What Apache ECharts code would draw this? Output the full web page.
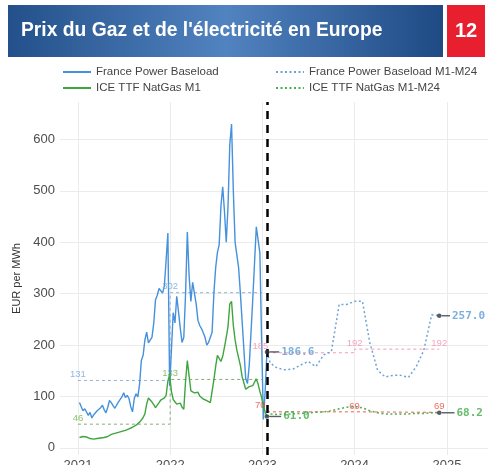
<!DOCTYPE html>
<html>
<head>
<meta charset="utf-8">
<script src="https://cdn.jsdelivr.net/npm/echarts@6/dist/echarts.min.js"></script>
<style>
html,body{margin:0;padding:0;background:#fff;}
#chart{width:488px;height:465px;}
</style>
</head>
<body>
<div id="chart"></div>
<script>
// weekly spot / front month, first week 2021-01-07, last one = cutoff 2023-01-19
var spotStart = '2021-01-07';
var powerSpot = [88,80,72,76,78,63,69,58,64,62,72,74,78,83,74,68,79,92,88,82,
  77,74,89,86,99,107,98,102,96,80,70,96,105,99,124,170,180,210,225,204,
  201,215,242,288,297,310,312,301,315,365,418,120,190,263,243,295,265,233,205,215,
  300,420,335,285,322,325,280,248,238,232,224,215,200,205,208,225,300,350,380,395,
  470,508,460,400,470,590,630,500,400,375,350,300,245,190,135,125,160,225,290,360,
  430,432,380,210,55,110,186.6];
var gasSpot = [20,21,22,23,21,19,18,17,17,18,18,19,19,20,20,21,22,24,26,27,
  28,29,30,31,32,33,34,36,37,38,40,42,44,47,50,54,59,66,85,97,
  95,89,84,78,80,88,93,95,97,102,130,142,110,94,92,85,87,87,79,75,
  130,170,140,111,112,107,105,108,101,98,95,93,92,89,88,110,132,158,180,180,
  168,178,196,215,236,280,285,238,210,190,175,160,138,126,114,112,119,121,121,128,
  134,124,110,98,80,70,61];

// forward curves M1-M24 (first point = last spot at cutoff)
var cutoff = '2023-01-19';
var fwdMonths = [cutoff,'2023-02-01','2023-03-01','2023-04-01','2023-05-01','2023-06-01','2023-07-01',
  '2023-08-01','2023-09-01','2023-10-01','2023-11-01','2023-12-01','2024-01-01','2024-02-01',
  '2024-03-01','2024-04-01','2024-05-01','2024-06-01','2024-07-01','2024-08-01','2024-09-01',
  '2024-10-01','2024-11-01','2024-12-01'];
var powerFwd = [186.6,165,155,152,153,161,168,158,181,187,279,279,285,285,205,151,138,141,141,137,158,190,259,257.0];
var gasFwd = [61.0,66,65,66,66,67,68,69,70,72,76,79,80,78,72,68,66,66,66,66,67,67,68,68.2];

// yearly averages (step lines) and where their labels sit
var histAvgDates = ['2021-01-01','2022-01-01','2022-12-31'];
var powerHistAvg = [131,302,302];
var gasHistAvg = [46,133,133];
var histLabelDates = ['2021-01-01','2022-01-01'];
var fwdAvgDates = [cutoff,'2024-01-01','2024-12-01'];
var powerFwdAvg = [185,192,192];
var gasFwdAvg = [70,69,69];
var fwdLabelDates = ['2022-12-24','2024-01-01','2024-12-01'];

var yearTicks = ['2021-01-01','2022-01-01','2023-01-01','2024-01-01','2025-01-01'];
var yTicks = [0,100,200,300,400,500,600];

function ts(s){ return +new Date(s + 'T00:00:00'); }
function weekly(start, n){
  var d0 = new Date(start + 'T00:00:00'), out = [];
  for (var i = 0; i < n; i++) { var d = new Date(d0); d.setDate(d0.getDate() + 7 * i); out.push(d.getTime()); }
  return out;
}
function zip(xs, ys){ return ys.map(function(v, i){ return [typeof xs[i] === 'string' ? ts(xs[i]) : xs[i], v]; }); }

var spotDates = weekly(spotStart, powerSpot.length);

var blue = '#4591db', green = '#3fa53f';

function avgLine(dates, vals, color){
  return { type: 'line', step: 'end', data: zip(dates, vals), symbol: 'none', silent: true, z: 2,
    lineStyle: { color: color, width: 1, type: [3, 3] } };
}
function avgLabels(dates, vals, color){
  return { type: 'scatter', symbolSize: 0, silent: true, z: 6,
    data: dates.map(function(d, i){ return [ts(d), vals[i]]; }),
    label: { show: true, position: 'top', distance: 1, color: color, fontSize: 9.5,
      formatter: function(p){ return String(p.value[1]); } } };
}
function endLabel(date, val, txt, color, gap){
  return { type: 'scatter', symbol: 'circle', symbolSize: 4.5, silent: true, z: 7,
    itemStyle: { color: '#2b3544' },
    data: [[ts(date), val]],
    label: { show: true, position: 'right', distance: 0,
      formatter: '{l| }{v|' + txt + '}',
      rich: {
        l: { width: gap, height: 1.4, backgroundColor: '#2b3544' },
        v: { color: color, fontFamily: 'DejaVu Sans Mono', fontWeight: 'bold', fontSize: 11, padding: [0, 0, 0, 2] }
      } } };
}

var legendBase = { orient: 'vertical', top: 61, itemWidth: 28, itemHeight: 14, itemGap: 4,
  itemStyle: { opacity: 0 }, textStyle: { fontSize: 11.5, color: '#444' } };

var myChart = echarts.init(document.getElementById('chart'));
var option = {
  animation: false,
  textStyle: { fontFamily: 'Liberation Sans' },
  graphic: [
    { type: 'rect', shape: { x: 8, y: 5, width: 435, height: 52 },
      style: { fill: new echarts.graphic.LinearGradient(0, 0, 1, 0, [
        { offset: 0, color: '#23508a' }, { offset: 0.5, color: '#5183c0' }, { offset: 1, color: '#1f4a84' }]) } },
    { type: 'text', x: 21, y: 31,
      style: { text: "Prix du Gaz et de l'électricité en Europe", fill: '#fff', fontSize: 19.3, fontWeight: 'bold',
        fontFamily: 'Liberation Sans', verticalAlign: 'middle' } },
    { type: 'rect', shape: { x: 447, y: 5, width: 38, height: 52 }, style: { fill: '#e81f2e' } },
    { type: 'text', x: 466, y: 31,
      style: { text: '12', fill: '#fff', fontSize: 20, fontWeight: 'bold', fontFamily: 'Liberation Sans',
        align: 'center', verticalAlign: 'middle' } }
  ],
  legend: [
    Object.assign({ left: 57, data: ['France Power Baseload', 'ICE TTF NatGas M1'] }, legendBase),
    Object.assign({ left: 270, data: ['France Power Baseload M1-M24', 'ICE TTF NatGas M1-M24'] }, legendBase)
  ],
  grid: { left: 60, right: 0, top: 102, bottom: 10, outerBoundsMode: 'none' },
  xAxis: {
    type: 'value', min: ts('2020-10-22'), max: ts('2025-06-12'),
    axisLine: { show: false },
    axisTick: { show: false, customValues: yearTicks.map(ts) },
    axisLabel: { customValues: yearTicks.map(ts), margin: 4, fontSize: 13, color: '#4d4d4d',
      formatter: function(v){ return String(new Date(v).getFullYear()); } },
    splitLine: { show: true, lineStyle: { color: '#ebebeb', width: 1 } }
  },
  yAxis: {
    type: 'value', min: -14, max: 673,
    name: 'EUR per MWh', nameLocation: 'middle', nameGap: 35, nameRotate: 90,
    nameTextStyle: { fontSize: 11, color: '#333' },
    axisLine: { show: false },
    axisTick: { show: false, customValues: yTicks },
    axisLabel: { customValues: yTicks, margin: 5, fontSize: 13, color: '#4d4d4d' },
    splitLine: { show: true, lineStyle: { color: '#ebebeb', width: 1 } }
  },
  series: [
    avgLine(histAvgDates, powerHistAvg, '#93b5d8'),
    avgLine(histAvgDates, gasHistAvg, '#8aa97c'),
    avgLine(fwdAvgDates, powerFwdAvg, '#f49ab8'),
    avgLine(fwdAvgDates, gasFwdAvg, '#ef5b4f'),
    { name: 'France Power Baseload', type: 'line', data: zip(spotDates, powerSpot), symbol: 'none', z: 4,
      lineStyle: { color: blue, width: 1.4 }, itemStyle: { color: blue } },
    { name: 'ICE TTF NatGas M1', type: 'line', data: zip(spotDates, gasSpot), symbol: 'none', z: 4,
      lineStyle: { color: green, width: 1.4 }, itemStyle: { color: green } },
    { name: 'France Power Baseload M1-M24', type: 'line', data: zip(fwdMonths, powerFwd), symbol: 'none', z: 4,
      lineStyle: { color: '#6fa3d6', width: 1.5, type: [2, 2.5] }, itemStyle: { color: '#6fa3d6' },
      markLine: { symbol: 'none', silent: true, label: { show: false },
        lineStyle: { color: '#000', width: 2.5, type: [8, 6] },
        data: [{ xAxis: ts(cutoff) }] } },
    { name: 'ICE TTF NatGas M1-M24', type: 'line', data: zip(fwdMonths, gasFwd), symbol: 'none', z: 4,
      lineStyle: { color: '#4caf50', width: 1.5, type: [2, 2.5] }, itemStyle: { color: '#4caf50' } },
    avgLabels(histLabelDates, powerHistAvg, '#6fa8dc'),
    avgLabels(histLabelDates, gasHistAvg, '#6ab04c'),
    avgLabels(fwdLabelDates, powerFwdAvg, '#f08db0'),
    avgLabels(fwdLabelDates, gasFwdAvg, '#e8463c'),
    endLabel(cutoff, powerSpot[powerSpot.length - 1], '186.6', '#5b9bd5', 10),
    endLabel(cutoff, gasSpot[gasSpot.length - 1], '61.0', '#3daa47', 12),
    endLabel('2024-12-01', powerFwd[powerFwd.length - 1], '257.0', '#5b9bd5', 8.5),
    endLabel('2024-12-01', gasFwd[gasFwd.length - 1], '68.2', '#3daa47', 13)
  ]
};
myChart.setOption(option);
</script>
</body>
</html>
